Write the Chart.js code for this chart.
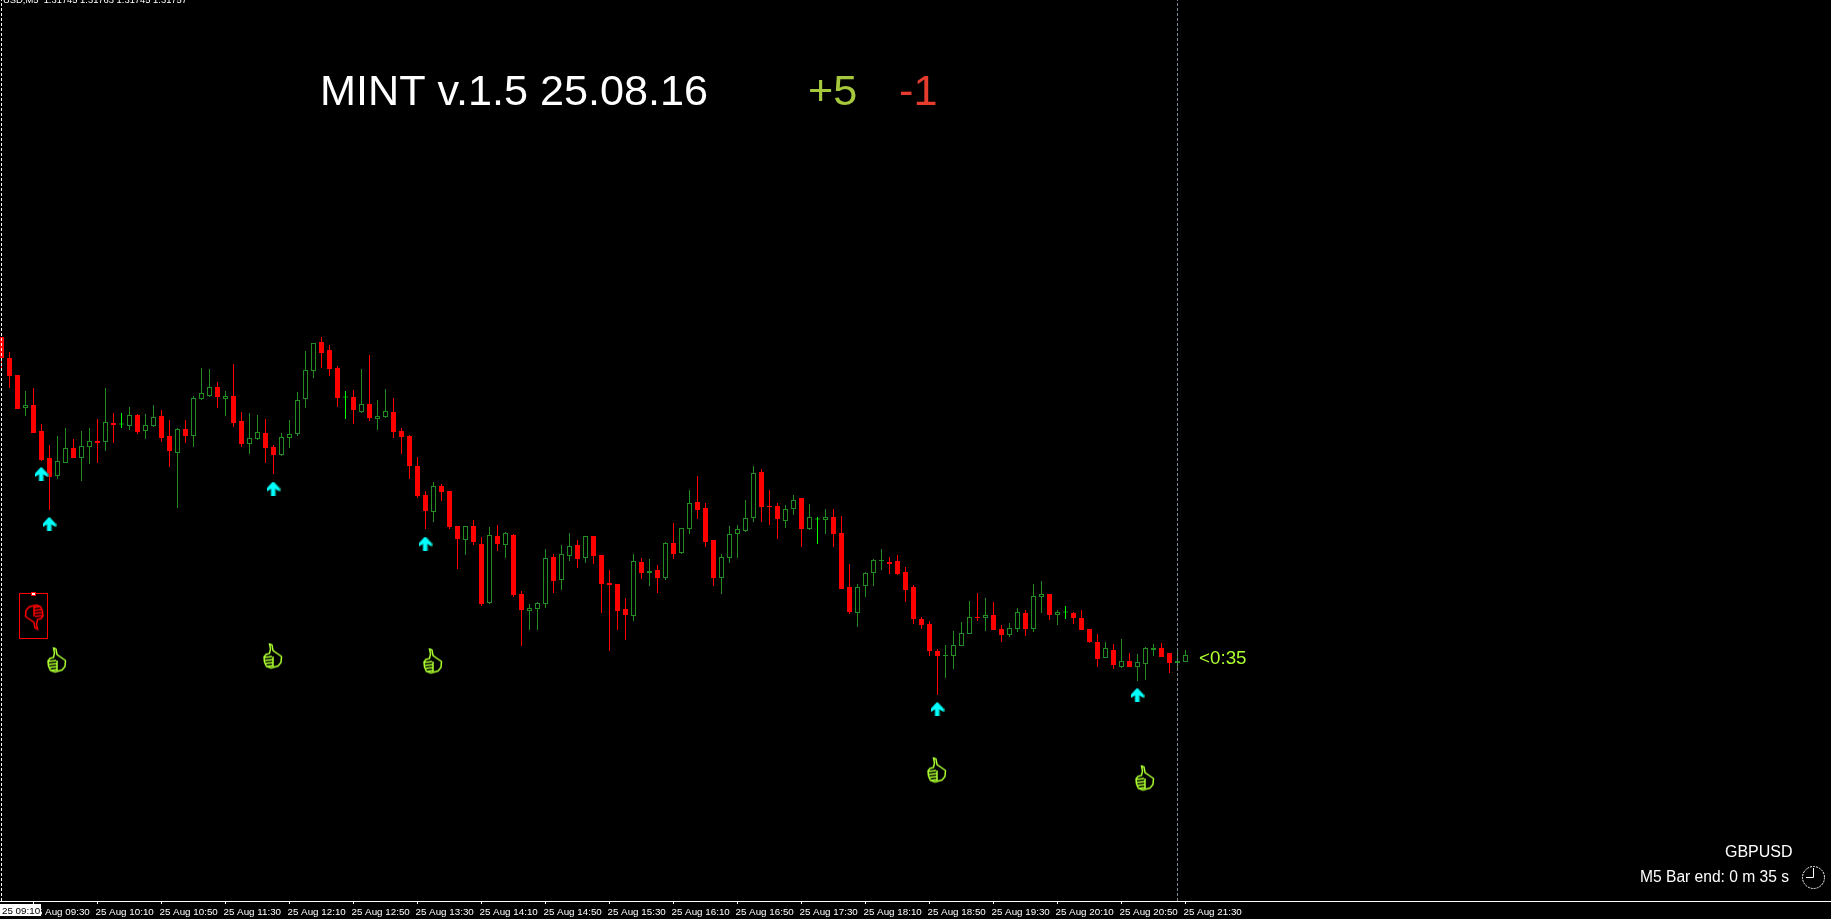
<!DOCTYPE html>
<html lang="en">

<head>
    <meta charset="UTF-8">
    <title>MINT v.1.5 GBPUSD M5</title>
    <script src="https://cdn.jsdelivr.net/npm/chart.js"></script>
    <style>
        html, body { margin: 0; padding: 0; background: #000; overflow: hidden; }
        canvas { display: block; }
    </style>
</head>

<body>
    <canvas id="myChart" width="1831" height="919"></canvas>

    <script>
        // prices in points, 132396 means 1.32396. One bar per 5 minutes, bar 0 is 25 Aug 09:10
        const highs = [
            132396, 132366, 132320, 132288, 132294, 132222, 132180, 132198, 132214, 132192,
            132208, 132214, 132232, 132294, 132244, 132244, 132256, 132242, 132242, 132260,
            132250, 132230, 132214, 132230, 132278, 132334, 132332, 132306, 132288, 132342,
            132246, 132244, 132240, 132232, 132180, 132204, 132230, 132286, 132368, 132384,
            132396, 132380, 132338, 132288, 132290, 132332, 132360, 132270, 132292, 132274,
            132214, 132200, 132156, 132088, 132106, 132102, 132088, 132018, 132018, 132030,
            131996, 132016, 132020, 132006, 132002, 131888, 131862, 131866, 131972, 131962,
            131980, 132004, 131990, 131998, 131998, 131960, 131930, 131902, 131874, 131962,
            131954, 131952, 131940, 131986, 132024, 132014, 132090, 132118, 132064, 131990,
            131962, 132018, 132020, 132070, 132138, 132132, 132090, 132064, 132060, 132080,
            132074, 132062, 132036, 132052, 132052, 132038, 131942, 131902, 131926, 131952,
            131972, 131956, 131960, 131936, 131900, 131836, 131828, 131772, 131780, 131808,
            131826, 131868, 131884, 131874, 131866, 131820, 131824, 131854, 131850, 131902,
            131908, 131882, 131850, 131858, 131846, 131850, 131812, 131802, 131786, 131782,
            131792, 131764, 131762, 131776, 131782, 131784, 131764, 131770, 131770,
        ];
        const lows = [
            132330, 132294, 132252, 132238, 132204, 132148, 132050, 132112, 132144, 132154,
            132108, 132142, 132144, 132168, 132184, 132214, 132210, 132202, 132192, 132216,
            132186, 132136, 132054, 132184, 132176, 132270, 132276, 132254, 132238, 132216,
            132176, 132162, 132190, 132144, 132122, 132158, 132174, 132198, 132254, 132314,
            132334, 132318, 132256, 132232, 132222, 132244, 132228, 132210, 132234, 132194,
            132162, 132112, 132074, 132012, 132026, 132068, 132012, 131932, 131960, 131980,
            131858, 131862, 131968, 131954, 131876, 131778, 131810, 131810, 131854, 131884,
            131890, 131948, 131934, 131944, 131942, 131844, 131768, 131810, 131790, 131828,
            131912, 131898, 131884, 131910, 131952, 131962, 132002, 132032, 131976, 131898,
            131882, 131944, 131954, 132006, 132026, 132026, 132020, 131992, 132014, 132040,
            131976, 132010, 131982, 132002, 131976, 131892, 131842, 131816, 131876, 131898,
            131930, 131922, 131920, 131866, 131822, 131812, 131758, 131680, 131714, 131732,
            131778, 131802, 131828, 131808, 131810, 131786, 131796, 131806, 131798, 131806,
            131844, 131830, 131820, 131832, 131822, 131810, 131784, 131736, 131754, 131732,
            131734, 131736, 131708, 131710, 131758, 131756, 131724, 131734, 131746,
        ];
        const opens = [
            132396, 132354, 132320, 132254, 132260, 132208, 132154, 132118, 132144, 132174,
            132154, 132176, 132188, 132186, 132224, 132221, 132218, 132240, 132208, 132218,
            132238, 132198, 132164, 132212, 132198, 132272, 132278, 132296, 132272, 132278,
            132228, 132182, 132192, 132204, 132176, 132160, 132194, 132202, 132272, 132328,
            132386, 132370, 132334, 132275, 132276, 132246, 132262, 132232, 132236, 132246,
            132208, 132198, 132138, 132080, 132046, 132098, 132088, 132018, 131990, 132018,
            131982, 131864, 131998, 131980, 132000, 131882, 131848, 131852, 131862, 131956,
            131910, 131958, 131980, 131954, 131998, 131960, 131904, 131902, 131852, 131838,
            131946, 131924, 131930, 131914, 131984, 131964, 132012, 132066, 132054, 131990,
            131914, 131954, 132002, 132008, 132034, 132126, 132058, 132058, 132028, 132052,
            132074, 132012, 132031, 132030, 132036, 132004, 131896, 131844, 131898, 131924,
            131948, 131946, 131948, 131926, 131896, 131832, 131822, 131768, 131758, 131758,
            131778, 131802, 131836, 131834, 131840, 131812, 131800, 131812, 131844, 131812,
            131876, 131882, 131840, 131845, 131844, 131834, 131812, 131786, 131754, 131770,
            131736, 131748, 131736, 131742, 131770, 131774, 131764, 131744, 131746,
        ];
        const closes = [
            132354, 132318, 132252, 132260, 132204, 132150, 132116, 132148, 132174, 132154,
            132178, 132188, 132184, 132226, 132220, 132221, 132240, 132206, 132220, 132236,
            132194, 132168, 132212, 132198, 132274, 132284, 132296, 132276, 132278, 132224,
            132182, 132194, 132206, 132174, 132160, 132196, 132202, 132270, 132330, 132384,
            132364, 132332, 132274, 132275, 132250, 132262, 132234, 132238, 132248, 132206,
            132196, 132138, 132078, 132048, 132098, 132086, 132016, 131992, 132018, 131986,
            131862, 132000, 131982, 132004, 131880, 131850, 131854, 131864, 131954, 131908,
            131962, 131978, 131952, 131998, 131958, 131902, 131900, 131848, 131840, 131948,
            131924, 131928, 131914, 131984, 131962, 132014, 132064, 132050, 131986, 131914,
            131956, 132002, 132012, 132034, 132124, 132056, 132056, 132032, 132052, 132070,
            132012, 132036, 132031, 132036, 132002, 131892, 131846, 131896, 131924, 131950,
            131950, 131942, 131922, 131890, 131832, 131820, 131768, 131758, 131760, 131780,
            131804, 131836, 131834, 131840, 131810, 131800, 131814, 131846, 131812, 131878,
            131882, 131840, 131846, 131845, 131834, 131810, 131786, 131752, 131774, 131740,
            131748, 131736, 131746, 131774, 131774, 131756, 131744, 131748, 131760,
        ];

        // bar number and price of the signals
        const arrowBars = [5, 6, 34, 53, 117, 142];
        const arrowPrices = [132122, 132022, 132093, 131983, 131652, 131680];
        const thumbUpBars = [7, 34, 54, 117, 143];
        const thumbUpPrices = [131750, 131758, 131748, 131530, 131514];
        const thumbDownBars = [4];
        const thumbDownPrices = [131836];

        // time axis
        const tickBars = [4, 12, 20, 28, 36, 44, 52, 60, 68, 76, 84, 92, 100, 108, 116, 124, 132, 140, 148];
        const tickLabels = [
            '25 Aug 09:30', '25 Aug 10:10', '25 Aug 10:50', '25 Aug 11:30', '25 Aug 12:10',
            '25 Aug 12:50', '25 Aug 13:30', '25 Aug 14:10', '25 Aug 14:50', '25 Aug 15:30',
            '25 Aug 16:10', '25 Aug 16:50', '25 Aug 17:30', '25 Aug 18:10', '25 Aug 18:50',
            '25 Aug 19:30', '25 Aug 20:10', '25 Aug 20:50', '25 Aug 21:30',
        ];

        const crosshairBar = 0;
        const separatorBar = 147;
        const priceMin = 131268;
        const priceMax = 133070;
        const barMin = -0.1875;
        const barMax = 228.6875;

        const RED = '#ff0000';
        const GREEN = '#228b22';
        const DOJI = '#00ff00';
        const FONT = '"Liberation Sans", Arial, sans-serif';

        function candleColor(i) {
            if (closes[i] === opens[i]) return DOJI;
            return closes[i] > opens[i] ? GREEN : RED;
        }

        function points(bars, prices) {
            return bars.map((b, i) => ({ x: b, y: prices[i] }));
        }

        // cyan wingdings style arrow
        function makeArrow() {
            const c = document.createElement('canvas');
            c.width = 14;
            c.height = 14;
            const g = c.getContext('2d');
            const path = (dx, color) => {
                g.fillStyle = color;
                g.beginPath();
                g.moveTo(6.5 + dx, 0);
                g.lineTo(13 + dx, 7);
                g.lineTo(13 + dx, 10);
                g.lineTo(8.5 + dx, 7);
                g.lineTo(8.5 + dx, 14);
                g.lineTo(4.5 + dx, 14);
                g.lineTo(4.5 + dx, 7);
                g.lineTo(0 + dx, 10);
                g.lineTo(0 + dx, 7);
                g.closePath();
                g.fill();
            };
            path(1, '#0b7f6a');
            path(0, '#00ffff');
            return c;
        }

        // outline hand, down = true turns it over
        function makeThumb(color, down) {
            const c = document.createElement('canvas');
            c.width = 21;
            c.height = 27;
            const g = c.getContext('2d');
            if (down) {
                g.translate(21, 27);
                g.rotate(Math.PI);
            }
            g.strokeStyle = color;
            g.lineWidth = 1.5;
            g.beginPath();
            g.moveTo(6.5, 1.5);
            g.lineTo(9, 2.5);
            g.lineTo(10, 8);
            g.lineTo(18.5, 14);
            g.lineTo(18, 20);
            g.lineTo(15, 23.5);
            g.lineTo(8, 25.5);
            g.lineTo(3.5, 24);
            g.lineTo(1.5, 19.5);
            g.lineTo(1, 14.5);
            g.lineTo(3, 12);
            g.lineTo(6.5, 11);
            g.lineTo(7.5, 6.5);
            g.closePath();
            g.moveTo(1.5, 15);
            g.lineTo(9, 14);
            g.moveTo(2, 18);
            g.lineTo(10, 17);
            g.moveTo(2.5, 21);
            g.lineTo(10, 20);
            g.moveTo(4, 24);
            g.lineTo(10, 23);
            g.moveTo(10, 14);
            g.lineTo(10, 24);
            g.stroke();
            return c;
        }

        // labels and small objects on top of the chart window
        const overlay = {
            id: 'overlay',
            afterDraw(chart) {
                const g = chart.ctx;
                g.save();
                g.textBaseline = 'alphabetic';
                g.textAlign = 'left';

                g.font = '9.4px ' + FONT;
                g.fillStyle = '#fff';
                g.fillText('USD,M5  1.31745 1.31763 1.31745 1.31757', 3, 3);

                g.font = '43.2px ' + FONT;
                g.fillStyle = '#fff';
                g.fillText('MINT v.1.5 25.08.16', 320, 105);
                g.fillStyle = '#a6c83c';
                g.fillText('+5', 808, 105);
                g.fillStyle = '#e63c2d';
                g.fillText('-1', 899, 105);

                g.font = '18.8px ' + FONT;
                g.fillStyle = '#adff2f';
                g.fillText('<0:35', 1199, 664);

                g.font = '16px ' + FONT;
                g.fillStyle = '#fff';
                g.fillText('GBPUSD', 1725, 857);
                g.font = '15.6px ' + FONT;
                g.fillText('M5 Bar end: 0 m 35 s', 1640, 882);

                // clock
                g.strokeStyle = '#fff';
                g.lineWidth = 1;
                g.setLineDash([2, 1]);
                g.beginPath();
                g.arc(1813.5, 877.5, 11, 0, Math.PI * 2);
                g.stroke();
                g.setLineDash([]);
                g.beginPath();
                g.moveTo(1813.5, 868);
                g.lineTo(1813.5, 877.5);
                g.lineTo(1806, 877.5);
                g.stroke();

                // selected object frame
                g.strokeStyle = RED;
                g.strokeRect(19.5, 593.5, 28, 45);
                g.fillStyle = '#fff';
                g.fillRect(31, 592, 5, 4);
                g.strokeRect(31.5, 592.5, 4, 3);

                // time of the crosshair on the axis
                g.fillStyle = '#fff';
                g.fillRect(0, 904, 41, 12);
                g.fillStyle = '#000';
                g.font = '9.8px ' + FONT;
                g.fillText('25 09:10', 2, 914);
                g.restore();
            },
        };

        const bars = highs.map((h, i) => i);

        const dataSet = [
            {
                type: 'line',
                data: [{ x: crosshairBar, y: priceMin }, { x: crosshairBar, y: priceMax }],
                borderColor: '#fff',
                borderWidth: 1,
                borderDash: [3, 2],
                pointRadius: 0,
                order: 0,
            },
            {
                type: 'line',
                data: [{ x: separatorBar, y: priceMin }, { x: separatorBar, y: priceMax }],
                borderColor: '#808a96',
                borderWidth: 1,
                borderDash: [3, 2],
                pointRadius: 0,
                order: 0,
            },
            {
                type: 'scatter',
                data: points(arrowBars, arrowPrices),
                pointStyle: makeArrow(),
                order: 0,
            },
            {
                type: 'scatter',
                data: points(thumbUpBars, thumbUpPrices),
                pointStyle: makeThumb('#adff2f', false),
                order: 0,
            },
            {
                type: 'scatter',
                data: points(thumbDownBars, thumbDownPrices),
                pointStyle: makeThumb(RED, true),
                order: 0,
            },
            {
                // bodies, rising bars are hollow
                data: bars.map(i => ({ x: i, y: [opens[i], closes[i]] })),
                grouped: false,
                maxBarThickness: 5,
                minBarLength: 1,
                inflateAmount: 0,
                borderSkipped: false,
                borderWidth: 1,
                borderColor: ctx => candleColor(ctx.dataIndex),
                backgroundColor: ctx => candleColor(ctx.dataIndex) === GREEN ? '#000' : candleColor(ctx.dataIndex),
                order: 1,
            },
            {
                // wicks
                data: bars.map(i => ({ x: i, y: [lows[i], highs[i]] })),
                grouped: false,
                maxBarThickness: 1,
                inflateAmount: 0,
                borderWidth: 0,
                backgroundColor: ctx => candleColor(ctx.dataIndex),
                order: 2,
            },
        ];

        new Chart(document.getElementById('myChart'), {
            type: 'bar',
            data: { datasets: dataSet },
            plugins: [overlay],
            options: {
                responsive: false,
                animation: false,
                events: [],
                layout: { padding: 0, autoPadding: false },
                plugins: { legend: { display: false }, tooltip: { enabled: false }, title: { display: false } },
                scales: {
                    x: {
                        type: 'linear',
                        min: barMin,
                        max: barMax,
                        offset: false,
                        border: { color: '#fff', width: 1 },
                        grid: { offset: false, drawOnChartArea: false, color: '#fff', tickLength: 3, tickWidth: 1 },
                        ticks: {
                            autoSkip: false,
                            maxRotation: 0,
                            minRotation: 0,
                            align: 'start',
                            padding: 2,
                            labelOffset: -2,
                            color: '#fff',
                            font: { family: FONT, size: 9.8 },
                            callback: (value, i) => tickLabels[i],
                        },
                        afterBuildTicks: axis => { axis.ticks = tickBars.map(v => ({ value: v })); },
                        afterFit: axis => { axis.height = 18; axis.paddingLeft = 0; axis.paddingRight = 0; },
                    },
                    y: { display: false, min: priceMin, max: priceMax },
                },
            },
        });
    </script>
</body>

</html>
